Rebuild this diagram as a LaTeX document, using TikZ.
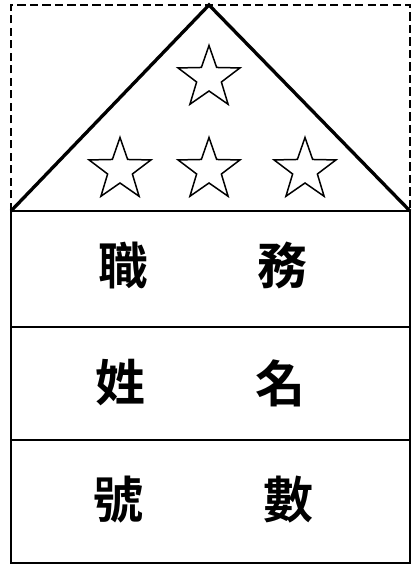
\documentclass[tikz,border=0pt]{standalone}
\usepackage{fontspec}
\newfontfamily\cjk{Noto Sans CJK TC Bold}
\usetikzlibrary{shapes.geometric}
\tikzset{
  badge/.style={line width=2pt},
  rowline/.style={line width=1.3pt},
  mark star/.style={star,star points=5,star point ratio=2.5,draw,
    line width=0.9pt,minimum size=39pt,inner sep=0pt,outer sep=0pt},
  title/.style={font=\cjk\fontsize{30}{30}\selectfont,inner sep=0pt}
}
\begin{document}
\begin{tikzpicture}[x=0.6pt,y=0.6pt]
  \useasboundingbox (0,0) rectangle (412,566);
  % fixed points
  \coordinate (A) at (209,561);
  \coordinate (B) at (11,355);
  \coordinate (C) at (410,355);
  \coordinate (D) at (11,3);
  \coordinate (E) at (410,3);
  % drawings
  \draw[dash pattern=on 5pt off 2.5pt,line width=1pt] (B) |- (A) -| (C);
  \draw[badge] (B) -- (A) -- (C);
  \draw[rowline] (B) rectangle (E);
  \draw[rowline] (11,239) -- (410,239);
  \draw[rowline] (11,126) -- (410,126);
  % stars
  \node[mark star] (s1) at (209,488) {};
  \node[mark star] (s2) at (120,396) {};
  \node[mark star] (s3) at (209,396) {};
  \node[mark star] (s4) at (305,396) {};
  % labelling
  \node[title] (l1) at (123,300) {職};
  \node[title] (r1) at (282,300) {務};
  \node[title] (l2) at (120,183) {姓};
  \node[title] (r2) at (280,183) {名};
  \node[title] (l3) at (118,66) {號};
  \node[title] (r3) at (288,66) {數};
\end{tikzpicture}
\end{document}
